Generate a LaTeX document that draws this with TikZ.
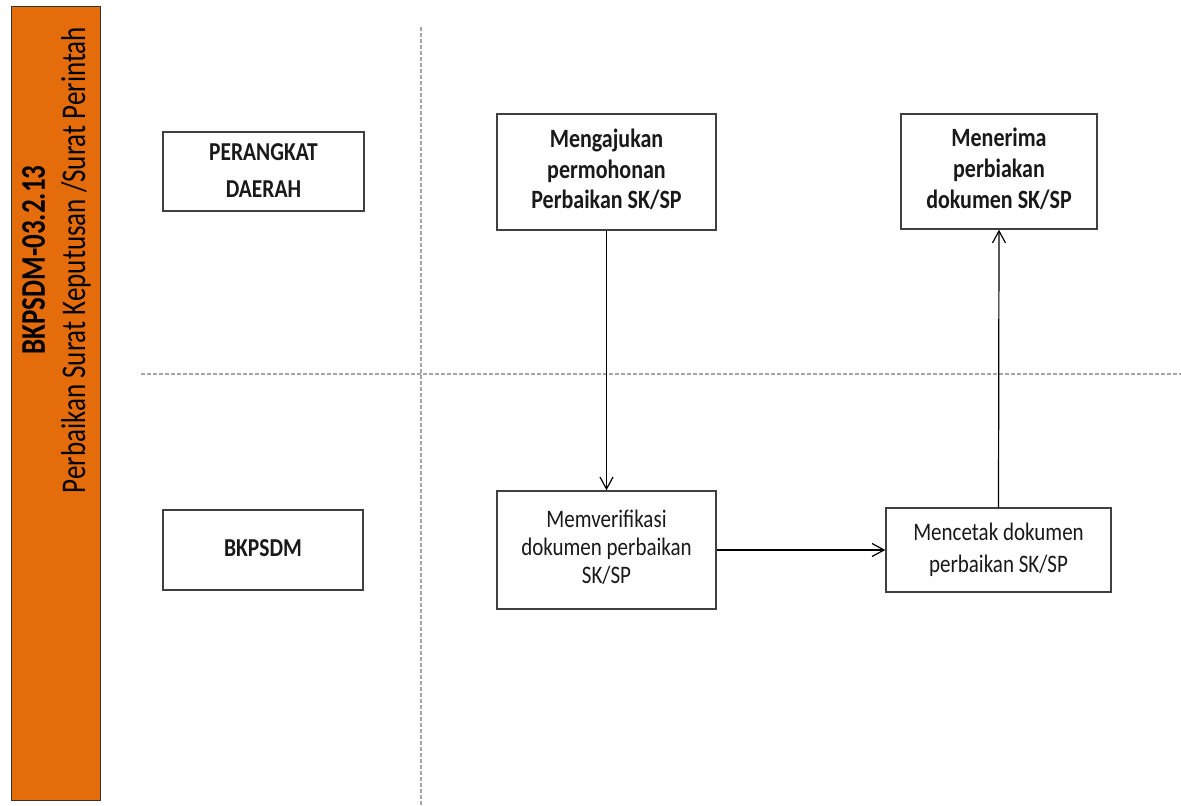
\documentclass[tikz,border=0pt]{standalone}
\usepackage{fontspec}
\setmainfont{Carlito}
\usetikzlibrary{arrows.meta}
\definecolor{barorange}{HTML}{E46C0A}
\definecolor{boxline}{HTML}{404040}
\definecolor{dashgray}{HTML}{A6A6A6}
\newcommand{\boxtxt}[3][21]{\scalebox{1}[1.2]{\fontsize{#1}{#2}\selectfont\begin{tabular}{@{}c@{}}#3\end{tabular}}}
\tikzset{
  procbox/.style={draw=boxline, line width=1.4pt, fill=white, rectangle, inner sep=0pt, text=black!90},
  flow/.style={draw=black, line width=1.2pt, -{Straight Barb[length=12pt,width=13pt,line width=1.2pt]}},
  lane/.style={draw=dashgray, line width=1.2pt, dash pattern=on 4pt off 2pt},
}
\begin{document}
\begin{tikzpicture}[x=1pt,y=-1pt]
\useasboundingbox (0,0) rectangle (1181,806);
% lanes
\coordinate (vt) at (421,27);
\coordinate (vb) at (421,806);
\coordinate (hl) at (141,374);
\coordinate (hr) at (1181,374);
\draw[lane] (vt) -- (vb);
\draw[lane] (hl) -- (hr);
% orange title bar
\node[draw=black!80, line width=1pt, fill=barorange, rectangle, inner sep=0pt,
      minimum width=89pt, minimum height=794pt] (bar) at (55.5,403) {};
\node[rotate=90, inner sep=0pt] (title) at (57,260)
  {\scalebox{1}[1.28]{\fontsize{27}{31.5}\selectfont\begin{tabular}{@{}c@{}}\textbf{BKPSDM-03.2.13}\\ Perbaikan Surat Keputusan /Surat Perintah\end{tabular}}};
% lane labels
\node[procbox, minimum width=201pt, minimum height=79pt] (pd) at (263.5,171.5)
  {\boxtxt[21.5]{31}{\textbf{PERANGKAT}\\ \textbf{DAERAH}}};
\node[procbox, minimum width=200pt, minimum height=80pt] (bk) at (263,550)
  {\boxtxt[21.5]{25}{\textbf{BKPSDM}}};
% process boxes
\node[procbox, minimum width=219pt, minimum height=116pt] (aju) at (606.5,172)
  {\boxtxt[22]{25.5}{\textbf{Mengajukan}\\ \textbf{permohonan}\\ \textbf{Perbaikan SK/SP}}};
\node[procbox, minimum width=196pt, minimum height=115pt] (terima) at (999,171.5)
  {\boxtxt[22]{26}{\textbf{Menerima}\\ \textbf{perbiakan}\\ \textbf{dokumen SK/SP}}};
\node[procbox, minimum width=219pt, minimum height=118pt] (verif) at (606.5,550)
  {\boxtxt{23.5}{Memverifikasi\\ dokumen perbaikan\\ SK/SP}};
\node[procbox, minimum width=225pt, minimum height=84pt] (cetak) at (998.5,550)
  {\boxtxt{27}{Mencetak dokumen\\ perbaikan SK/SP}};
% connectors
\draw[flow] (aju.south) -- (verif.north);
\draw[flow] (verif.east) -- (cetak.west);
\draw[flow] (cetak.north) -- (terima.south);
\end{tikzpicture}
\end{document}
